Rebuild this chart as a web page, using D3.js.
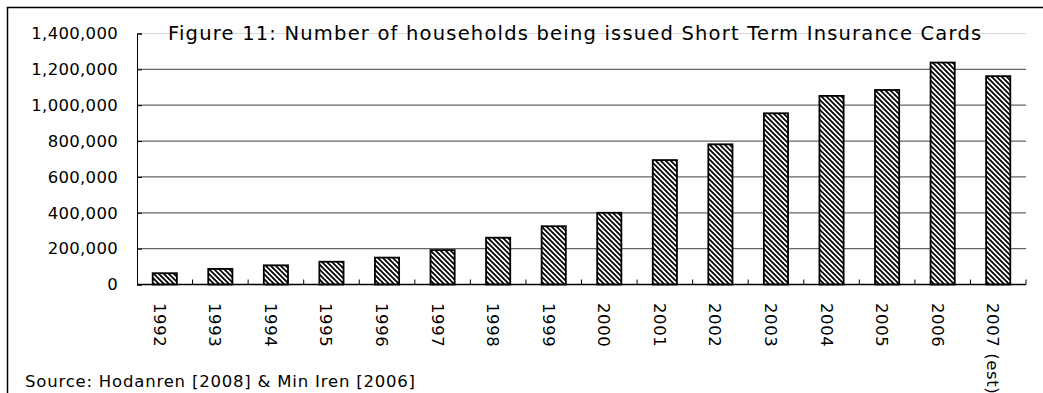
<!DOCTYPE html>
<html>
<head>
<meta charset="utf-8">
<script src="https://cdn.jsdelivr.net/npm/d3@7"></script>
<style>
  html, body { margin: 0; padding: 0; background: #fff; }
  svg { display: block; }
  text { font-family: "DejaVu Sans", sans-serif; fill: #000; }
</style>
</head>
<body>
<svg id="chart" width="1043" height="393"></svg>
<script>
// Households issued Short Term Insurance Cards, by year
const years = ["1992", "1993", "1994", "1995", "1996", "1997", "1998", "1999",
               "2000", "2001", "2002", "2003", "2004", "2005", "2006", "2007 (est)"];
const households = [63000, 87000, 107000, 127000, 150000, 192000, 261000, 325000,
                    400000, 694000, 782000, 955000, 1052000, 1085000, 1238000, 1162000];
const yTicks = [0, 200000, 400000, 600000, 800000, 1000000, 1200000, 1400000];

const titleText = "Figure 11: Number of households being issued Short Term Insurance Cards";
const sourceText = "Source: Hodanren [2008] & Min Iren [2006]";

const svg = d3.select("#chart");
const W = 1043, H = 393;
const plot = { left: 137, right: 1026, top: 33.5, bottom: 284.5 };

// Outer frame (runs off the right and bottom edges)
svg.append("rect")
  .attr("x", 7.5).attr("y", 7.5)
  .attr("width", W).attr("height", H)
  .attr("fill", "none").attr("stroke", "#000").attr("stroke-width", 1.5);

// Diagonal hatch fill for the bars
const defs = svg.append("defs");
const pat = defs.append("pattern")
  .attr("id", "hatch")
  .attr("patternUnits", "userSpaceOnUse")
  .attr("width", 5).attr("height", 5);
pat.append("rect").attr("width", 5).attr("height", 5).attr("fill", "#fff");
pat.append("path")
  .attr("d", "M-1,-1 L6,6 M-1,4 L1,6 M4,-1 L6,1")
  .attr("stroke", "#000").attr("stroke-width", 1.8);

const x = d3.scaleBand()
  .domain(years)
  .range([plot.left, plot.right])
  .paddingInner(0.565)
  .paddingOuter(0.2825);

const y = d3.scaleLinear()
  .domain([0, 1400000])
  .range([plot.bottom, plot.top]);

// Horizontal gridlines
svg.append("g")
  .selectAll("line")
  .data(yTicks.filter(d => d > 0))
  .join("line")
  .attr("x1", plot.left).attr("x2", plot.right)
  .attr("y1", d => y(d)).attr("y2", d => y(d))
  .attr("stroke", d => d === 1400000 ? "#d8d8d8" : "#666")
  .attr("stroke-width", d => d === 1400000 ? 1 : 1.3);

// Y axis: inward ticks, labels on the left
const yAxis = d3.axisLeft(y)
  .tickValues(yTicks)
  .tickSize(-5)
  .tickPadding(19)
  .tickFormat(d3.format(","));
const gy = svg.append("g")
  .attr("transform", `translate(${plot.left},0)`)
  .call(yAxis);
gy.select(".domain").attr("stroke", "#000").attr("stroke-width", 1);
gy.selectAll(".tick line").attr("stroke", "#000").attr("stroke-width", 1);
gy.selectAll(".tick text")
  .attr("font-family", "DejaVu Sans, sans-serif")
  .attr("font-size", 16.5)
  .attr("letter-spacing", 0.3)
  .attr("fill", "#000");

// Title
svg.append("text")
  .attr("x", 168).attr("y", 40)
  .attr("font-size", 19.5)
  .attr("letter-spacing", 1.2)
  .text(titleText);

// Bars
svg.append("g")
  .selectAll("rect")
  .data(years.map((yr, i) => ({ yr, v: households[i] })))
  .join("rect")
  .attr("x", d => x(d.yr))
  .attr("y", d => y(d.v))
  .attr("width", x.bandwidth())
  .attr("height", d => y(0) - y(d.v))
  .attr("fill", "url(#hatch)")
  .attr("stroke", "#000")
  .attr("stroke-width", 1.8);

// X axis: category boundaries with short inward ticks
const step = x.step();
const boundaries = d3.range(1, years.length + 1).map(i => plot.left + i * step);
const gx = svg.append("g");
gx.append("line")
  .attr("x1", plot.left).attr("x2", plot.right)
  .attr("y1", plot.bottom).attr("y2", plot.bottom)
  .attr("stroke", "#000").attr("stroke-width", 1.5);
gx.selectAll("line.tick")
  .data(boundaries)
  .join("line")
  .attr("class", "tick")
  .attr("x1", d => d).attr("x2", d => d)
  .attr("y1", plot.bottom).attr("y2", plot.bottom - 5)
  .attr("stroke", "#000").attr("stroke-width", 1);

// Rotated year labels, reading top to bottom
gx.selectAll("text")
  .data(years)
  .join("text")
  .attr("transform", d => `translate(${x(d) + x.bandwidth() / 2 - 11},303) rotate(90)`)
  .attr("font-size", 16.5)
  .attr("letter-spacing", 0.6)
  .attr("text-anchor", "start")
  .text(d => d);

// Source note
svg.append("text")
  .attr("x", 25).attr("y", 386.5)
  .attr("font-size", 16.5)
  .attr("letter-spacing", 0.8)
  .text(sourceText);
</script>
</body>
</html>
